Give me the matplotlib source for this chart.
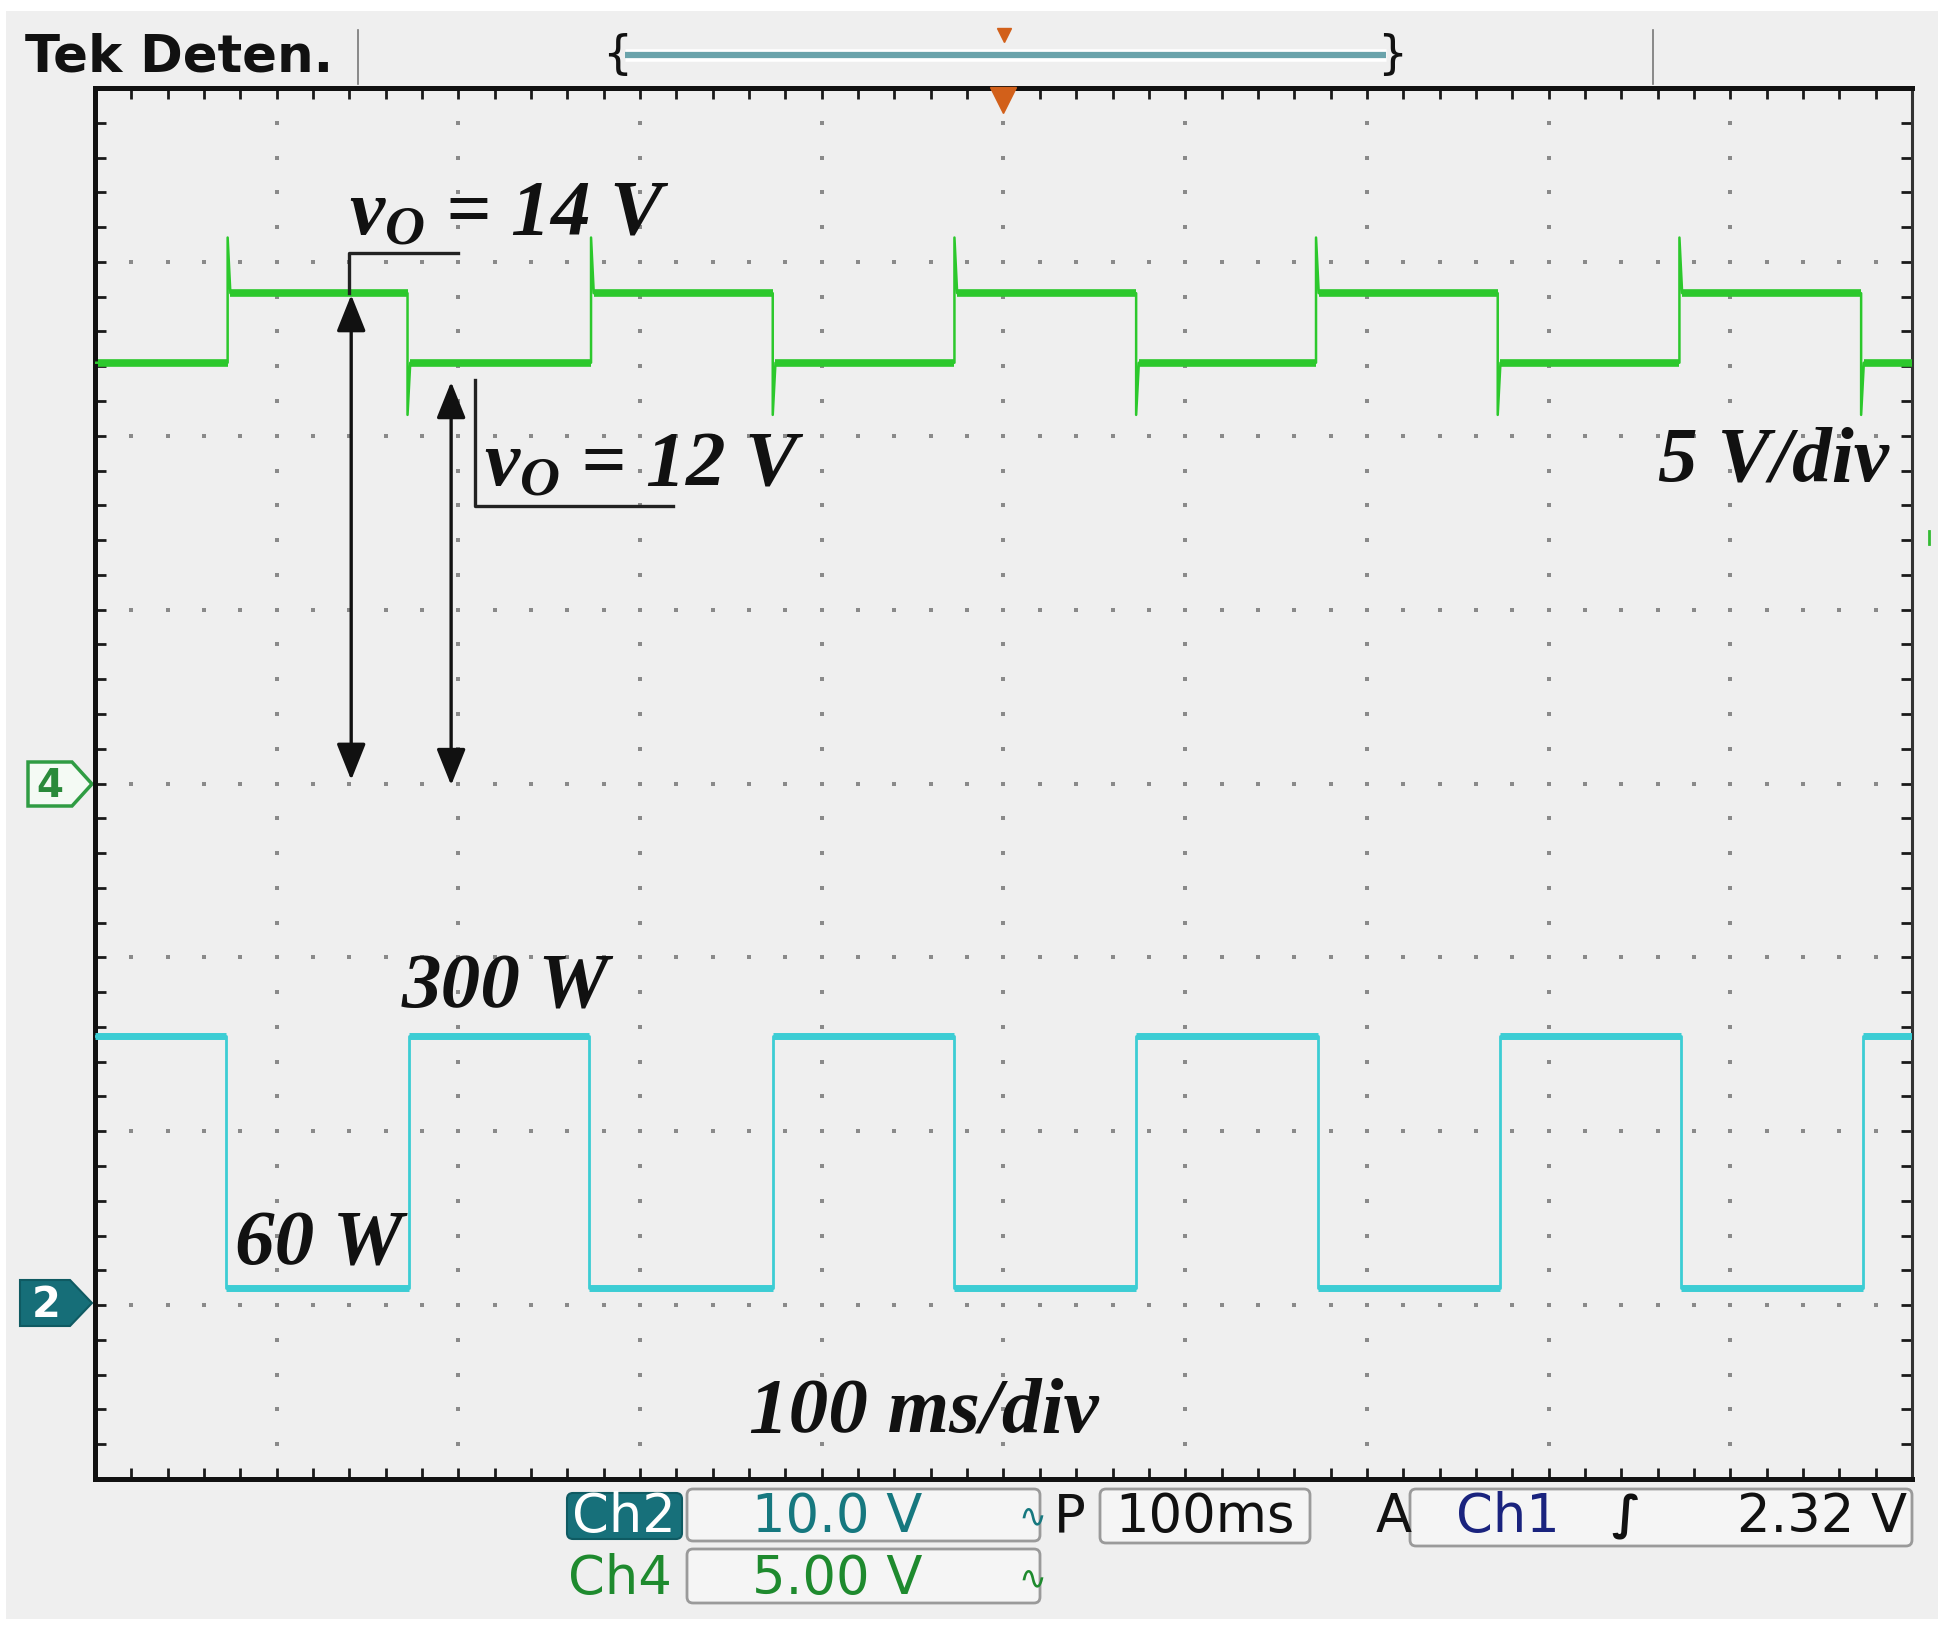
import matplotlib
matplotlib.use("Agg")
import matplotlib.pyplot as plt
import numpy as np
from matplotlib.patches import Polygon, FancyBboxPatch, Rectangle

W, H = 1954, 1633

# scope settings: 100 ms/div over 10 div, 8 vertical div
t_span = 1000.0
ch4_scale = 5.0      # V/div
ch4_ground = 0.0     # div
ch2_scale = 10.0     # V/div
ch2_ground = -3.0    # div

# Ch4 (green, output voltage) edges in ms and the level of each segment in V
ch4_edges = [73, 172, 273, 373, 473, 573, 672, 772, 872, 972]
ch4_seg_v = [12.1, 14.1, 12.1, 14.1, 12.1, 14.1, 12.1, 14.1, 12.1, 14.1, 12.1]
ch4_rise_peak = 15.7
ch4_fall_dip = 10.6

# Ch2 (cyan, load step) edges in ms and segment levels in V
ch2_edges = [72, 173, 272, 373, 473, 573, 673, 773, 873, 973]
ch2_seg_v = [15.5, 1.0, 15.5, 1.0, 15.5, 1.0, 15.5, 1.0, 15.5, 1.0, 15.5]

bg = '#efefef'
green = '#2cc82c'
cyan = '#3ccdd4'

plt.rcParams['mathtext.fontset'] = 'custom'
plt.rcParams['mathtext.it'] = 'Liberation Serif:italic:bold'
plt.rcParams['mathtext.rm'] = 'Liberation Serif:italic:bold'

fig = plt.figure(figsize=(W / 100, H / 100), dpi=100, facecolor='white')

# overlay in pixel coordinates for the scope frame decorations
ov = fig.add_axes([0, 0, 1, 1], zorder=0)
ov.set_xlim(0, W)
ov.set_ylim(H, 0)
ov.axis('off')
ov.add_patch(Rectangle((6, 12), 1932, 1608, fc=bg, ec='none'))

ax = fig.add_axes([95 / W, 1 - 1480 / H, 1817 / W, 1391 / H], zorder=1)
ax.set_xlim(0, t_span)
ax.set_ylim(-4, 4)
ax.set_facecolor(bg)
ax.set_xticks(np.arange(0, t_span + 1, 20))
ax.set_yticks(np.arange(-4, 4.01, 0.2))
ax.tick_params(direction='in', length=8, width=2, color='#1a1a1a',
               top=True, right=True, labelbottom=False, labelleft=False)
for side in ['left', 'top', 'bottom']:
    ax.spines[side].set_linewidth(3.6)
    ax.spines[side].set_color('#111111')
ax.spines['right'].set_linewidth(2.2)
ax.spines['right'].set_color('#333333')

# dotted graticule
gx, gy = [], []
for k in range(1, 10):
    yy = np.arange(-4, 4.01, 0.2)[1:-1]
    gx += [k * 100] * len(yy)
    gy += list(yy)
for k in range(-3, 4):
    xx = np.arange(0, t_span + 1, 20)[1:-1]
    gx += list(xx)
    gy += [k] * len(xx)
ax.scatter(gx, gy, s=9, marker='s', color='#8a8a8a', linewidths=0, zorder=1)


def build(edges, seg_v, rise=None, dip=None):
    xs, ys = [0.0], [seg_v[0]]
    for i, t in enumerate(edges):
        a, b = seg_v[i], seg_v[i + 1]
        spike = b
        if rise is not None:
            spike = rise if b > a else dip
        xs += [t, t, t + 1.5]
        ys += [a, spike, b]
    xs.append(t_span)
    ys.append(seg_v[-1])
    return np.array(xs), np.array(ys)


def flats(edges, seg_v):
    starts = [0] + edges
    ends = edges + [t_span]
    return starts, ends, seg_v


# Ch4 trace
x4, v4 = build(ch4_edges, ch4_seg_v, ch4_rise_peak, ch4_fall_dip)
ax.plot(x4, v4 / ch4_scale + ch4_ground, color=green, lw=1.8, zorder=3)
s, e, lv = flats(ch4_edges, ch4_seg_v)
ax.hlines(np.array(lv) / ch4_scale + ch4_ground, np.array(s) + 1.5, e,
          color=green, lw=5.5, zorder=3)

# Ch2 trace
x2, v2 = build(ch2_edges, ch2_seg_v)
ax.plot(x2, v2 / ch2_scale + ch2_ground, color=cyan, lw=2.0, zorder=3)
s, e, lv = flats(ch2_edges, ch2_seg_v)
ax.hlines(np.array(lv) / ch2_scale + ch2_ground, s, e,
          color=cyan, lw=5.0, zorder=3)

# annotations
y14 = ch4_seg_v[1] / ch4_scale + ch4_ground
y12 = ch4_seg_v[2] / ch4_scale + ch4_ground
arrow = '<|-|>,head_length=0.45,head_width=0.18'
ax.annotate('', xy=(141, 0.02), xytext=(141, y14 - 0.01),
            arrowprops=dict(arrowstyle=arrow, color='#111111', lw=2.4,
                            mutation_scale=50, shrinkA=0, shrinkB=0), zorder=4)
ax.annotate('', xy=(196, -0.01), xytext=(196, y12 - 0.11),
            arrowprops=dict(arrowstyle=arrow, color='#111111', lw=2.4,
                            mutation_scale=50, shrinkA=0, shrinkB=0), zorder=4)
ax.plot([140, 140, 200], [y14, 3.05, 3.05], color='#222222', lw=2.4, zorder=4)
ax.plot([209, 209, 318], [y12 - 0.1, 1.594, 1.594], color='#222222', lw=2.4, zorder=4)

txt = dict(fontfamily='Liberation Serif', fontstyle='italic', fontweight='bold',
           fontsize=57, color='#111111', va='baseline', zorder=5)
ax.text(140, 3.16, r'$v_O$ = 14 V', **txt)
ax.text(214, 1.72, r'$v_O$ = 12 V', **txt)
ax.text(987, 1.75, '5 V/div', ha='right', **txt)
ax.text(169, -1.28, '300 W', **txt)
ax.text(77, -2.76, '60 W', **txt)
ax.text(360, -3.72, '100 ms/div', **txt)

# trigger position marker inside top edge
ax.plot([500], [3.93], marker='v', ms=19, color='#d2601a', clip_on=False, zorder=6)

# header
ov.text(25, 58, 'Tek Deten.', fontsize=37, fontweight='bold', color='#111111',
        va='center', ha='left')
ov.plot([358, 358], [31, 85], color='#777777', lw=1.2)
ov.plot([1653, 1653], [31, 85], color='#777777', lw=1.2)
ov.plot([625, 1386], [56, 56], color='#ffffff', lw=9, solid_capstyle='butt')
ov.plot([625, 1386], [56, 56], color='#6aa3ab', lw=4.5, solid_capstyle='butt')
ov.text(617, 56, '{', fontsize=34, color='#111111', ha='center', va='center')
ov.text(1392, 56, '}', fontsize=34, color='#111111', ha='center', va='center')
ov.plot([1004], [36], marker='v', ms=10, color='#d2601a')

# channel ground markers
ov.add_patch(Polygon([(28, 763), (72, 763), (92, 785), (72, 807), (28, 807)],
                     closed=True, fc='#f4faf4', ec='#2f9c43', lw=2.5))
ov.text(50, 786, '4', fontsize=28, fontweight='bold', color='#2a8a3a',
        ha='center', va='center')
ov.add_patch(Polygon([(20, 1281), (70, 1281), (92, 1304), (70, 1327), (20, 1327)],
                     closed=True, fc='#166e78', ec='#0f5a62', lw=1.5))
ov.text(46, 1305, '2', fontsize=30, fontweight='bold', color='white',
        ha='center', va='center')
ov.plot([1929, 1929], [532, 545], color='#33bb33', lw=2)

# readout panel
box = dict(boxstyle='round,pad=0,rounding_size=6', fc='#f5f5f5', ec='#9a9a9a', lw=2)
ov.add_patch(FancyBboxPatch((687, 1490), 353, 52, **box))
ov.add_patch(FancyBboxPatch((687, 1550), 353, 54, **box))
ov.add_patch(FancyBboxPatch((1100, 1490), 210, 54, **box))
ov.add_patch(FancyBboxPatch((1410, 1490), 502, 57, **box))
ov.add_patch(FancyBboxPatch((567, 1494), 115, 46,
                            boxstyle='round,pad=0,rounding_size=6',
                            fc='#17707a', ec='#0f5a62', lw=1.5))

ft = dict(fontsize=38, va='center')
ov.text(624, 1517, 'Ch2', color='white', ha='center', **ft)
ov.text(837, 1517, '10.0 V', color='#16787f', ha='center', **ft)
ov.text(1032, 1517, '∿', color='#16787f', ha='center', fontsize=24, va='center')
ov.text(1070, 1517, 'P', color='#111111', ha='center', **ft)
ov.text(1205, 1517, '100ms', color='#111111', ha='center', **ft)
ov.text(1394, 1517, 'A', color='#111111', ha='center', **ft)
ov.text(1508, 1517, 'Ch1', color='#1a237e', ha='center', **ft)
ov.text(1626, 1517, '∫', color='#111111', ha='center', fontsize=34,
        fontweight='bold', va='center')
ov.text(1907, 1517, '2.32 V', color='#111111', ha='right', **ft)
ov.text(620, 1579, 'Ch4', color='#1e8a2e', ha='center', **ft)
ov.text(837, 1579, '5.00 V', color='#1e8a2e', ha='center', **ft)
ov.text(1032, 1579, '∿', color='#1e8a2e', ha='center', fontsize=24, va='center')

fig.savefig('out.png', dpi=100, facecolor='white')
